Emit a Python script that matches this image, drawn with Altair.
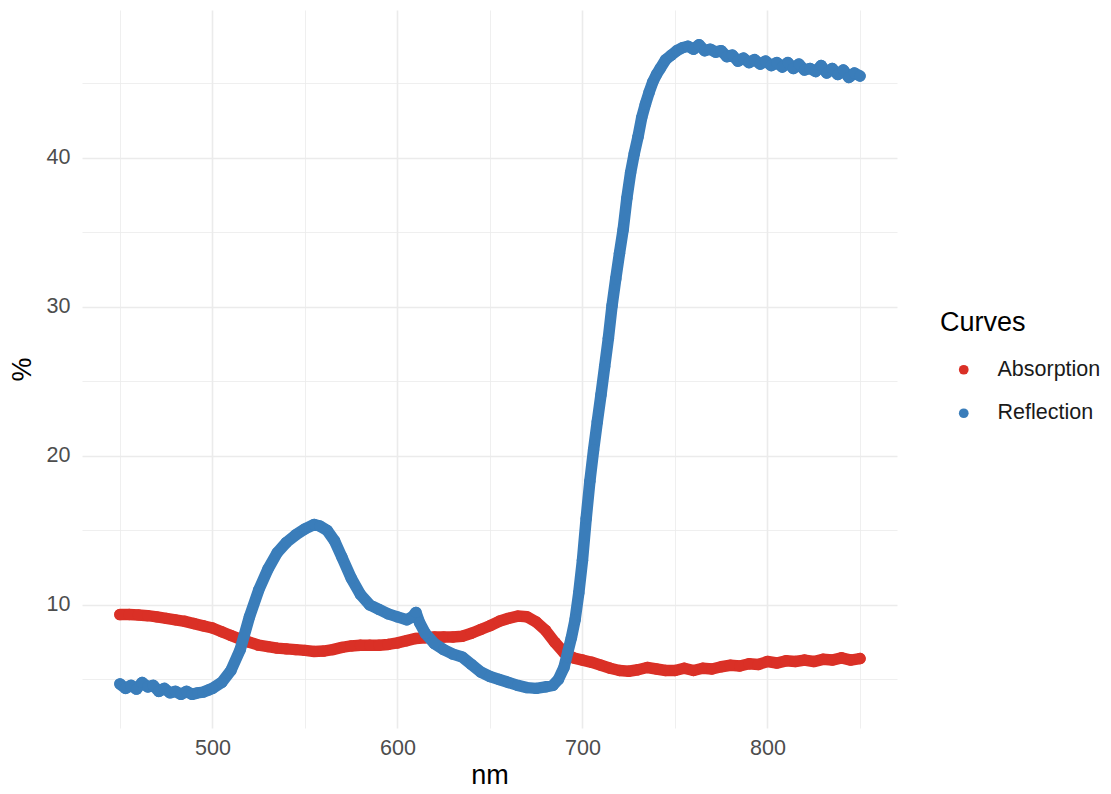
import altair as alt
import pandas as pd

# Absorption curve (nm, %)
abs_nm = [450, 455, 460, 465, 470, 475, 480, 485, 490, 495, 500, 505, 510, 515, 520, 525,
          530, 535, 540, 545, 550, 555, 560, 565, 570, 575, 580, 585, 590, 595, 600, 605,
          610, 615, 620, 625, 630, 635, 640, 645, 650, 655, 660, 665, 670, 675, 680, 685,
          690, 695, 700, 705, 710, 715, 720, 725, 730, 735, 740, 745, 750, 755, 760, 765,
          770, 775, 780, 785, 790, 795, 800, 805, 810, 815, 820, 825, 830, 835, 840, 845, 850]
abs_val = [9.35, 9.36, 9.33, 9.28, 9.2, 9.1, 9.0, 8.9, 8.75, 8.6, 8.45, 8.2, 7.95, 7.7, 7.5, 7.3,
           7.2, 7.1, 7.05, 7.0, 6.95, 6.88, 6.9, 7.0, 7.15, 7.25, 7.3, 7.3, 7.3, 7.35, 7.45, 7.6,
           7.75, 7.8, 7.85, 7.85, 7.85, 7.9, 8.1, 8.35, 8.6, 8.9, 9.1, 9.25, 9.2, 8.85, 8.3, 7.5,
           6.8, 6.45, 6.3, 6.15, 5.95, 5.75, 5.6, 5.55, 5.65, 5.8, 5.7, 5.6, 5.6, 5.75, 5.6, 5.75,
           5.7, 5.85, 5.95, 5.9, 6.05, 6.0, 6.2, 6.1, 6.25, 6.2, 6.3, 6.2, 6.35, 6.3, 6.45, 6.3, 6.4]

# Reflection curve (nm, %)
ref_nm = [450, 453, 456, 459, 462, 465, 468, 471, 474, 477, 480, 483, 486, 489, 492, 495, 498,
          500, 505, 510, 515, 520, 525, 530, 535, 540, 545, 550, 555, 558, 562, 566, 570, 575,
          580, 585, 590, 595, 600, 605, 608, 610, 612, 615, 620, 625, 630, 635, 640, 645, 650,
          655, 660, 665, 670, 675, 680, 684, 687, 690, 692, 694, 696, 698, 700, 702, 704, 706,
          708, 710, 712, 714, 716, 718, 720, 722, 724, 726, 728, 730, 732, 734, 736, 738, 740,
          742, 745, 748, 751, 754, 757, 760, 763, 766, 769, 772, 775, 778, 781, 784, 787, 790,
          793, 796, 799, 802, 805, 808, 811, 814, 817, 820, 823, 826, 829, 832, 835, 838, 841,
          844, 847, 850]
ref_val = [4.7, 4.4, 4.6, 4.35, 4.8, 4.5, 4.6, 4.2, 4.4, 4.1, 4.2, 4.0, 4.2, 4.0, 4.1, 4.15, 4.3,
           4.4, 4.8, 5.6, 7.0, 9.2, 11.0, 12.4, 13.5, 14.2, 14.7, 15.1, 15.4, 15.3, 15.0, 14.3, 13.2, 11.8,
           10.7, 10.0, 9.7, 9.4, 9.2, 9.0, 9.2, 9.5, 8.8, 8.1, 7.4, 7.0, 6.7, 6.5, 6.0, 5.5, 5.2,
           5.0, 4.8, 4.6, 4.45, 4.4, 4.5, 4.6, 5.0, 5.8, 6.8, 7.8, 9.0, 10.8, 13.0, 15.8, 18.3, 20.4,
           22.3, 24.1, 26.0, 27.9, 30.1, 31.9, 33.6, 35.2, 37.3, 39.0, 40.3, 41.4, 42.7, 43.6, 44.4, 45.1, 45.6,
           46.0, 46.6, 46.9, 47.2, 47.4, 47.5, 47.3, 47.6, 47.2, 47.3, 47.1, 47.2, 46.8, 46.9, 46.5, 46.7, 46.4,
           46.6, 46.3, 46.5, 46.2, 46.4, 46.1, 46.4, 46.0, 46.3, 45.9, 46.0, 45.8, 46.2, 45.7, 46.0, 45.6, 45.9,
           45.4, 45.7, 45.5]

series_names = ["Absorption", "Reflection"]
series_colors = ["#DA3026", "#3A7DBA"]
x_grid = [450, 500, 550, 600, 650, 700, 750, 800, 850]
y_grid = [5, 10, 15, 20, 25, 30, 35, 40, 45]

df_abs = pd.DataFrame({"nm": abs_nm, "pct": abs_val, "Curves": series_names[0]})
df_ref = pd.DataFrame({"nm": ref_nm, "pct": ref_val, "Curves": series_names[1]})

FONT = "Liberation Sans"

x_enc = alt.X("nm:Q", title="nm",
              scale=alt.Scale(domain=[429.5, 870], nice=False, zero=False),
              axis=alt.Axis(values=x_grid,
                            labelExpr="datum.value % 100 === 0 ? datum.label : ''",
                            gridWidth={"condition": {"test": "datum.value % 100 === 0", "value": 1.6}, "value": 0.8},
                            labelPadding=9, titlePadding=4))
y_enc = alt.Y("pct:Q", title="%",
              scale=alt.Scale(domain=[1.74, 49.93], nice=False, zero=False),
              axis=alt.Axis(values=y_grid,
                            labelExpr="datum.value % 10 === 0 ? datum.label : ''",
                            gridWidth={"condition": {"test": "datum.value % 10 === 0", "value": 1.6}, "value": 0.8},
                            labelPadding=12, titlePadding=10))

color_enc = alt.Color("Curves:N",
                      scale=alt.Scale(domain=series_names, range=series_colors),
                      legend=alt.Legend(orient="none", legendX=858, legendY=300,
                                        titleFontSize=27, titleFont=FONT, titleColor="#000000",
                                        titleFontWeight="normal", titlePadding=22,
                                        labelFontSize=21.5, labelFont=FONT, labelColor="#1A1A1A",
                                        symbolType="circle", symbolSize=95, symbolStrokeWidth=0,
                                        symbolOffset=13, labelOffset=23, rowPadding=20.5,
                                        padding=0))


def layer_for(df, color):
    line = alt.Chart(df).mark_line(color=color, strokeWidth=11.5, strokeCap="round",
                                   strokeJoin="round").encode(x=x_enc, y=y_enc)
    pts = alt.Chart(df).mark_circle(size=130, opacity=1).encode(x=x_enc, y=y_enc, color=color_enc)
    return line + pts


chart = alt.layer(
    layer_for(df_abs, series_colors[0]),
    layer_for(df_ref, series_colors[1]),
).properties(
    width=815, height=718,
    autosize=alt.AutoSizeParams(type="none"),
    padding={"left": 82, "top": 10, "right": 214, "bottom": 66},
    background="white",
).configure_view(stroke=None).configure_axis(
    domain=False, ticks=False, grid=True, gridColor="#EBEBEB",
    labelFont=FONT, labelFontSize=21.5, labelColor="#4D4D4D",
    titleFont=FONT, titleFontSize=27, titleColor="#000000", titleFontWeight="normal",
)

chart.save("out.html", embed_options={"renderer": "svg", "actions": False})
